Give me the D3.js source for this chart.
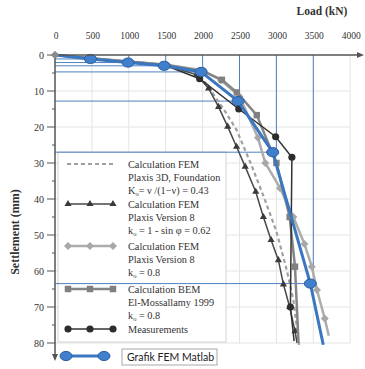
<!DOCTYPE html>
<html>
<head>
<meta charset="utf-8">
<script src="https://cdn.jsdelivr.net/npm/d3@7"></script>
<style>
  body { margin: 0; background: #fff; }
  svg { display: block; }
  text { font-family: "Liberation Serif", "DejaVu Serif", serif; fill: #333; }
</style>
</head>
<body>
<div id="chart"></div>
<script>
// axis ticks
const loadTicks = [0, 500, 1000, 1500, 2000, 2500, 3000, 3500, 4000];
const settleTicks = [0, 10, 20, 30, 40, 50, 60, 70, 80];

// Calculation FEM Plaxis 3D Foundation (dashed)
const plaxis3dLoad = [0, 500, 1000, 1500, 1900, 2050, 2150, 2300, 2460, 2650, 2846, 3000, 3140, 3230, 3306];
const plaxis3dSettle = [0, 1.0, 1.9, 2.8, 5.0, 8.0, 11.0, 15.5, 20.8, 30.0, 40.3, 49.0, 59.7, 68.0, 80.5];

// Calculation FEM Plaxis V8, k0 = 0.62 (triangles)
const plaxis62Load = [0, 500, 1000, 1500, 1920, 2081, 2216, 2340, 2460, 2577, 2720, 2824, 2928, 3027, 3095, 3180, 3252, 3280];
const plaxis62Settle = [0, 1.0, 1.9, 2.8, 5.5, 9.3, 14.4, 19.9, 25.5, 31.0, 38.0, 45.0, 51.4, 57.0, 63.7, 70.0, 76.7, 80.0];

// Calculation FEM Plaxis V8, k0 = 0.8 (diamonds)
const plaxis8Load = [0, 500, 1000, 1500, 2000, 2250, 2500, 2750, 2850, 3050, 3230, 3380, 3480, 3550, 3655, 3710];
const plaxis8Settle = [0, 1.0, 1.9, 2.7, 4.2, 7.0, 11.5, 23.0, 30.0, 37.0, 45.0, 52.5, 58.8, 65.3, 73.2, 78.0];

// Calculation BEM El-Mossallamy 1999 (squares)
const bemLoad = [0, 500, 1000, 1500, 2000, 2261, 2464, 2734, 3000, 3180, 3252, 3300];
const bemSettle = [0, 0.9, 1.8, 2.7, 4.5, 6.9, 10.4, 16.7, 30.0, 45.0, 58.8, 80.0];

// Measurements (circles)
const measLoad = [0, 500, 1000, 1500, 1960, 2490, 2990, 3210, 3190, 3240];
const measSettle = [0, 1.1, 2.0, 2.9, 6.6, 15.0, 22.7, 28.4, 70.0, 79.5];

// Grafik FEM Matlab (blue)
const matlabLoad = [0, 480, 990, 1480, 1980, 2480, 2950, 3460, 3635];
const matlabSettle = [0, 1.1, 2.1, 3.0, 4.7, 12.8, 27.0, 63.5, 80.5];
const matlabMarked = [1, 2, 3, 4, 5, 6, 7];

// guide lines
const guideLoad = [500, 1000, 1500, 2000, 2500, 3000, 3500];
const guideSettle = [1.1, 2.1, 3.0, 4.7, 12.8, 27.0, 63.5];

const W = 365, H = 369;
const svg = d3.select('#chart').append('svg').attr('width', W).attr('height', H);

const x = d3.scaleLinear([0, 4000], [55, 350.2]);
const y = d3.scaleLinear([0, 80], [55, 343]);

// light grid of the original plot
const grid = svg.append('g');
grid.selectAll('line.v').data(loadTicks.slice(1)).join('line')
    .attr('x1', d => x(d)).attr('x2', d => x(d)).attr('y1', y(0)).attr('y2', y(80))
    .style('stroke', '#e4e4e4').style('stroke-width', 1);
grid.selectAll('line.h').data(settleTicks.slice(1)).join('line')
    .attr('x1', x(0)).attr('x2', x(4000)).attr('y1', d => y(d)).attr('y2', d => y(d))
    .style('stroke', '#e4e4e4').style('stroke-width', 1);

// legend box (white, covers grid)
const legend = svg.append('g');
legend.append('rect')
    .attr('x', 58).attr('y', 152).attr('width', 168).attr('height', 190)
    .style('fill', '#fff').style('stroke', '#d2d2d2').style('stroke-width', 1);

// blue guide lines
const guides = svg.append('g').style('stroke', '#4f80c0').style('stroke-width', 1);
guideLoad.forEach((L, i) => {
    guides.append('line')
        .attr('x1', x(L)).attr('x2', x(L)).attr('y1', y(0)).attr('y2', y(guideSettle[i]));
    guides.append('line')
        .attr('x1', x(0)).attr('x2', x(L)).attr('y1', y(guideSettle[i])).attr('y2', y(guideSettle[i]));
});

const line = d3.line().x(d => x(d[0])).y(d => y(d[1]));
const zip = (a, b) => a.map((v, i) => [v, b[i]]);

function drawSeries(pts, style, marker) {
    const g = svg.append('g');
    g.append('path').datum(pts).attr('d', line)
        .style('fill', 'none').style('stroke', style.stroke).style('stroke-width', style.width)
        .style('stroke-dasharray', style.dash || null);
    if (marker) {
        g.selectAll('path.m').data(marker.pts || pts).join('path')
            .attr('transform', d => `translate(${x(d[0])},${y(d[1])})`)
            .attr('d', marker.shape)
            .style('fill', marker.fill).style('stroke', marker.stroke || 'none');
    }
}

const tri = d3.symbol(d3.symbolTriangle, 22)();
const dia = 'M0,-4L4,0L0,4L-4,0Z';
const sq = d3.symbol(d3.symbolSquare, 42)();
const circ = d3.symbol(d3.symbolCircle, 40)();
const ell = 'M-6,0A6,4.6 0 1,0 6,0A6,4.6 0 1,0 -6,0Z';

const dashStyle = { stroke: '#a0a0a0', width: 2.2, dash: '4,3' };
const triStyle = { stroke: '#484848', width: 1.5 };
const diaStyle = { stroke: '#adadad', width: 2.5 };
const sqStyle = { stroke: '#858585', width: 2.5 };
const measStyle = { stroke: '#333', width: 1.5 };
const blueStyle = { stroke: '#3a77c0', width: 3 };

drawSeries(zip(plaxis3dLoad, plaxis3dSettle), dashStyle, null);
drawSeries(zip(plaxis62Load, plaxis62Settle), triStyle,
    { shape: tri, fill: '#3a3a3a', pts: zip(plaxis62Load, plaxis62Settle).slice(4, -1) });
drawSeries(zip(plaxis8Load, plaxis8Settle), diaStyle,
    { shape: dia, fill: '#a8a8a8', pts: zip(plaxis8Load, plaxis8Settle).filter((d, i) => i !== plaxis8Load.length - 1) });
drawSeries(zip(bemLoad, bemSettle), sqStyle,
    { shape: sq, fill: '#808080', pts: zip(bemLoad, bemSettle).slice(4, -1) });
drawSeries(zip(measLoad, measSettle), measStyle,
    { shape: circ, fill: '#2d2d2d', pts: zip(measLoad, measSettle).slice(1, -1) });
const matlabPts = zip(matlabLoad, matlabSettle);
drawSeries(matlabPts, blueStyle,
    { shape: ell, fill: '#3f7fcc', stroke: '#2c5f9e', pts: matlabMarked.map(i => matlabPts[i]) });

// X axis on top with arrow
const axisColor = '#555';
svg.append('line').attr('x1', x(0)).attr('x2', 360).attr('y1', y(0)).attr('y2', y(0))
    .style('stroke', axisColor).style('stroke-width', 1.5);
svg.append('path').attr('d', `M364,${y(0)}L357,${y(0) - 3}L357,${y(0) + 3}Z`).style('fill', axisColor);
svg.selectAll('text.xt').data(loadTicks).join('text')
    .attr('x', d => x(d) + 1).attr('y', 39)
    .style('text-anchor', 'middle').style('font-size', '9.5px')
    .text(d => d);
svg.append('text').attr('x', 322).attr('y', 15)
    .style('text-anchor', 'middle').style('font-size', '11.5px').style('font-weight', 'bold')
    .text('Load (kN)');

// Y axis with arrow
svg.append('line').attr('x1', x(0)).attr('x2', x(0)).attr('y1', y(0)).attr('y2', 356)
    .style('stroke', axisColor).style('stroke-width', 1.5);
svg.append('path').attr('d', `M${x(0)},361L${x(0) - 3},354L${x(0) + 3},354Z`).style('fill', axisColor);
svg.selectAll('line.yt').data(d3.range(0, 81, 5)).join('line')
    .attr('x1', d => d % 10 === 0 ? x(0) - 8 : x(0) - 3).attr('x2', x(0))
    .attr('y1', d => y(d)).attr('y2', d => y(d))
    .style('stroke', axisColor).style('stroke-width', 1);
svg.selectAll('text.yt').data(settleTicks).join('text')
    .attr('x', 44).attr('y', d => y(d)).attr('dy', '0.35em')
    .style('text-anchor', 'end').style('font-size', '10px')
    .text(d => d);
svg.append('text').attr('transform', `translate(19, 232) rotate(-90)`)
    .style('text-anchor', 'middle').style('font-size', '12px').style('font-weight', 'bold')
    .text('Settlement (mm)');

// origin diamond
svg.append('path').attr('transform', `translate(${x(0)},${y(0)})`).attr('d', dia)
    .style('fill', '#8a8a8a');

// legend items
const items = [
    { style: dashStyle, marker: null, y: 164, lines: ['Calculation FEM', 'Plaxis 3D, Foundation', ['K', 'o', '= ν /(1−ν)  =  0.43']] },
    { style: triStyle, marker: { shape: tri, fill: '#3a3a3a' }, y: 204, lines: ['Calculation FEM', 'Plaxis Version 8', ['k', 'o', ' = 1 - sin φ = 0.62']] },
    { style: diaStyle, marker: { shape: dia, fill: '#a8a8a8' }, y: 246, lines: ['Calculation FEM', 'Plaxis Version 8', ['k', 'o', ' = 0.8']] },
    { style: sqStyle, marker: { shape: sq, fill: '#808080' }, y: 289, lines: ['Calculation BEM', 'El-Mossallamy 1999', ['k', 'o', ' = 0.8']] },
    { style: measStyle, marker: { shape: circ, fill: '#2d2d2d' }, y: 329, lines: ['Measurements'] }
];
items.forEach(it => {
    const g = legend.append('g');
    g.append('line').attr('x1', 67).attr('x2', 114).attr('y1', it.y).attr('y2', it.y)
        .style('stroke', it.style.stroke).style('stroke-width', it.style.width)
        .style('stroke-dasharray', it.style.dash || null);
    if (it.marker) {
        g.selectAll('path').data([68, 90, 113]).join('path')
            .attr('transform', d => `translate(${d},${it.y})`)
            .attr('d', it.marker.shape).style('fill', it.marker.fill);
    }
    it.lines.forEach((t, i) => {
        const txt = g.append('text').attr('x', 128).attr('y', it.y + 3.5 + i * 13.3)
            .style('font-size', '10.3px');
        if (Array.isArray(t)) {
            txt.append('tspan').text(t[0]);
            txt.append('tspan').attr('dy', 1.5).style('font-size', '6.5px').text(t[1]);
            txt.append('tspan').attr('dy', -1.5).text(t[2]);
        } else {
            txt.text(t);
        }
    });
});

// Matlab legend entry
svg.append('line').attr('x1', 66).attr('x2', 104).attr('y1', 356).attr('y2', 356)
    .style('stroke', blueStyle.stroke).style('stroke-width', blueStyle.width);
svg.selectAll('path.lm').data([66, 104]).join('path')
    .attr('transform', d => `translate(${d},356)`).attr('d', ell)
    .style('fill', '#3f7fcc').style('stroke', '#2c5f9e');
svg.append('rect').attr('x', 122).attr('y', 349).attr('width', 95).attr('height', 16)
    .style('fill', '#fff').style('stroke', '#a8a8a8');
svg.append('text').attr('x', 127).attr('y', 361)
    .style('font-family', 'Lato, "Open Sans", sans-serif').style('font-size', '10.5px').style('fill', '#222')
    .text('Grafik FEM Matlab');
</script>
</body>
</html>
